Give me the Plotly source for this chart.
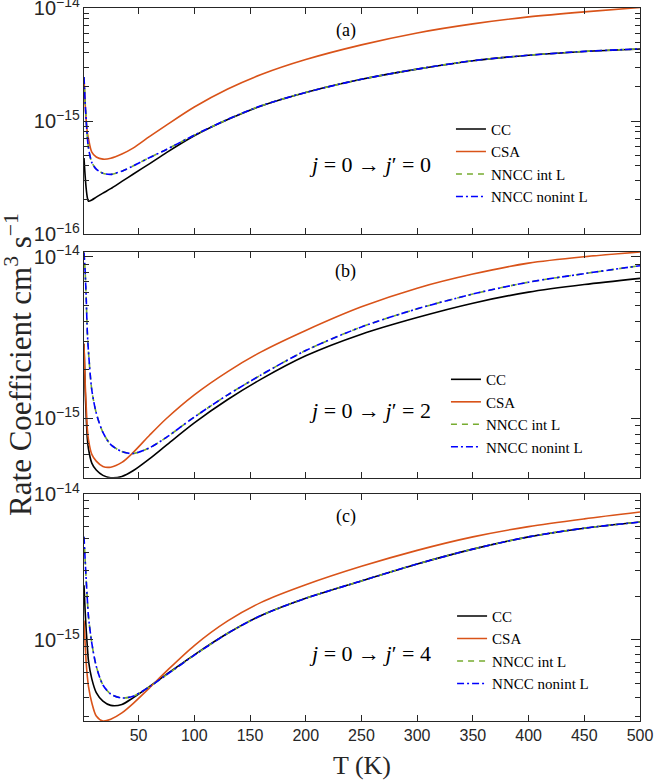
import plotly.graph_objects as go

# temperature grid (K)
temps = [1, 2, 3, 4, 5, 8, 12, 18, 25, 35, 45, 60, 75, 100, 130, 160, 200, 250, 300, 350, 400, 450, 500]

# (a) j=0 -> j'=0
cc_a = [4.7e-16, 3.3e-16, 2.5e-16, 2.1e-16, 1.95e-16, 2.0e-16, 2.12e-16, 2.3e-16, 2.52e-16, 2.92e-16, 3.38e-16,
        4.2e-16, 5.25e-16, 7.4e-16, 1.03e-15, 1.36e-15, 1.79e-15, 2.34e-15, 2.88e-15, 3.42e-15, 3.82e-15, 4.12e-15,
        4.34e-15]
csa_a = [2.4e-15, 1.45e-15, 1.0e-15, 7.9e-16, 7.0e-16, 5.3e-16, 4.8e-16, 4.6e-16, 4.68e-16, 5.1e-16, 5.75e-16,
         7.3e-16, 9.2e-16, 1.33e-15, 1.92e-15, 2.58e-15, 3.5e-15, 4.72e-15, 6.02e-15, 7.24e-15, 8.34e-15, 9.25e-15,
         1.01e-14]
nncc_int_a = [2.45e-15, 1.5e-15, 1.0e-15, 7.2e-16, 5.8e-16, 4.3e-16, 3.75e-16, 3.45e-16, 3.37e-16, 3.6e-16, 4.0e-16,
              4.75e-16, 5.6e-16, 7.5e-16, 1.035e-15, 1.365e-15, 1.79e-15, 2.34e-15, 2.88e-15, 3.42e-15, 3.82e-15,
              4.13e-15, 4.35e-15]
nncc_nonint_a = list(nncc_int_a)

# (b) j=0 -> j'=2
cc_b = [2.9e-15, 1.55e-15, 1.02e-15, 7.5e-16, 6.5e-16, 5.3e-16, 4.8e-16, 4.45e-16, 4.3e-16, 4.38e-16, 4.75e-16,
        5.65e-16, 6.85e-16, 9.4e-16, 1.31e-15, 1.75e-15, 2.44e-15, 3.32e-15, 4.21e-15, 5.16e-15, 6.04e-15, 6.73e-15,
        7.35e-15]
csa_b = [2.9e-15, 1.7e-15, 1.18e-15, 8.6e-16, 7.4e-16, 6.0e-16, 5.45e-16, 5.05e-16, 5.0e-16, 5.35e-16, 6.15e-16,
         7.9e-16, 1.0e-15, 1.4e-15, 1.95e-15, 2.58e-15, 3.5e-15, 4.9e-15, 6.39e-15, 7.81e-15, 9.13e-15, 1.0e-14,
         1.07e-14]
nncc_int_b = [1.06e-14, 8.2e-15, 5.5e-15, 3.4e-15, 2.6e-15, 1.5e-15, 1.08e-15, 8.2e-16, 6.9e-16, 6.25e-16, 6.07e-16,
              6.6e-16, 7.65e-16, 1.02e-15, 1.4e-15, 1.86e-15, 2.63e-15, 3.68e-15, 4.76e-15, 5.88e-15, 6.96e-15,
              7.86e-15, 8.8e-15]
nncc_nonint_b = list(nncc_int_b)

# (c) j=0 -> j'=4
cc_c = [2.37e-15, 1.6e-15, 1.16e-15, 9.0e-16, 7.2e-16, 5.4e-16, 4.35e-16, 3.8e-16, 3.55e-16, 3.6e-16, 4.0e-16,
        4.8e-16, 5.8e-16, 7.9e-16, 1.11e-15, 1.47e-15, 1.93e-15, 2.54e-15, 3.32e-15, 4.2e-15, 5.1e-15, 5.85e-15,
        6.45e-15]
csa_c = [1.36e-15, 9.5e-16, 6.9e-16, 5.6e-16, 4.8e-16, 3.7e-16, 3.0e-16, 2.77e-16, 2.85e-16, 3.15e-16, 3.65e-16,
         4.7e-16, 6.1e-16, 9.15e-16, 1.35e-15, 1.81e-15, 2.39e-15, 3.2e-15, 4.12e-15, 5.1e-15, 6.0e-15, 6.78e-15,
         7.55e-15]
nncc_int_c = [5.1e-15, 3.6e-15, 2.56e-15, 1.9e-15, 1.45e-15, 9.5e-16, 6.6e-16, 4.9e-16, 4.25e-16, 3.99e-16, 4.1e-16,
              4.78e-16, 5.75e-16, 7.85e-16, 1.11e-15, 1.47e-15, 1.93e-15, 2.54e-15, 3.32e-15, 4.2e-15, 5.1e-15,
              5.85e-15, 6.45e-15]
nncc_nonint_c = list(nncc_int_c)

panel_labels = ['(a)', '(b)', '(c)']
final_j = ['0', '2', '4']
series_names = ['CC', 'CSA', 'NNCC int L', 'NNCC nonint L']

panels = [
    (cc_a, csa_a, nncc_int_a, nncc_nonint_a),
    (cc_b, csa_b, nncc_int_b, nncc_nonint_b),
    (cc_c, csa_c, nncc_int_c, nncc_nonint_c),
]

styles = [
    dict(color='black', width=1.6),
    dict(color='#D95319', width=1.6),
    dict(color='#77AC30', width=1.6, dash='6px,5px'),
    dict(color='#0000FF', width=1.6, dash='7px,3px,2px,3px'),
]

SERIF = 'Liberation Serif'
SANS = 'Liberation Sans'
AX = '#262626'

y_domains = [[0.683, 1.0], [0.341, 0.658], [0.0, 0.318]]
y_ranges = [[-16.0001, -13.9999], [-15.367, -13.97], [-15.557, -13.9999]]
legend_pos = [(0.66, 0.853), (0.651, 0.502), (0.662, 0.17)]
label_y = [0.969, 0.63, 0.2875]
j_y = [0.78, 0.436, 0.095]

fig = go.Figure()
for i, curves in enumerate(panels):
    ax = '' if i == 0 else str(i + 1)
    leg = 'legend' if i == 0 else 'legend' + str(i + 1)
    for name, vals, st in zip(series_names, curves, styles):
        fig.add_trace(go.Scatter(x=temps, y=vals, mode='lines', name=name, line=dict(shape='spline', smoothing=0.8, **st),
                                 xaxis='x' + ax, yaxis='y' + ax, legend=leg))

layout = dict(width=656, height=780, margin=dict(l=84, r=16, t=8, b=59),
              paper_bgcolor='white', plot_bgcolor='white', showlegend=True)

for i in range(3):
    ax = '' if i == 0 else str(i + 1)
    layout['xaxis' + ax] = dict(
        domain=[0, 1], range=[1, 500], anchor='y' + ax, tickvals=list(range(50, 501, 50)),
        ticks='inside', ticklen=6, tickcolor=AX, showline=True, linecolor=AX, linewidth=1, mirror='allticks',
        showgrid=False, zeroline=False, showticklabels=(i == 2), automargin=False, ticklabeloverflow='allow',
        tickfont=dict(family=SANS, size=16, color=AX))
    layout['yaxis' + ax] = dict(
        domain=y_domains[i], range=y_ranges[i], type='log', anchor='x' + ax, dtick=1,
        exponentformat='power', showexponent='all', automargin=False, ticklabeloverflow='allow',
        ticks='inside', ticklen=9, tickcolor=AX, showline=True, linecolor=AX, linewidth=1, mirror='allticks',
        minor=dict(ticks='inside', ticklen=5, tickcolor=AX, dtick='D1', showgrid=False),
        showgrid=False, zeroline=False, tickfont=dict(family=SANS, size=16, color=AX))
    lx, ly = legend_pos[i]
    layout['legend' if i == 0 else 'legend' + str(i + 1)] = dict(
        x=lx, y=ly, xanchor='left', yanchor='top', bgcolor='rgba(0,0,0,0)',
        font=dict(family=SERIF, size=15, color='black'), itemwidth=30, tracegroupgap=0)

fig.update_layout(**layout)

for i in range(3):
    fig.add_annotation(x=0.471, y=label_y[i], xref='paper', yref='paper', text=panel_labels[i], showarrow=False,
                       xanchor='center', yanchor='middle', font=dict(family=SERIF, size=18, color='black'))
    fig.add_annotation(x=0.514, y=j_y[i], xref='paper', yref='paper',
                       text=f'<i>j</i> = 0 → <i>j</i>′ = {final_j[i]}', showarrow=False,
                       xanchor='center', yanchor='middle', font=dict(family=SERIF, size=22, color='black'))

fig.add_annotation(x=0.5, y=-0.062, xref='paper', yref='paper', text='T (K)', showarrow=False,
                   xanchor='center', yanchor='middle', font=dict(family=SERIF, size=26, color=AX))
fig.add_annotation(x=-0.118, y=0.5, xref='paper', yref='paper', text='Rate Coefficient cm<sup>3</sup> s<sup>−1</sup>',
                   textangle=-90, showarrow=False, xanchor='center', yanchor='middle',
                   font=dict(family=SERIF, size=31, color=AX))

# drop the page's default body margin so the figure sits at the window origin
fig.write_html('out.html', config={'displayModeBar': False}, post_script="document.body.style.margin='0';")
